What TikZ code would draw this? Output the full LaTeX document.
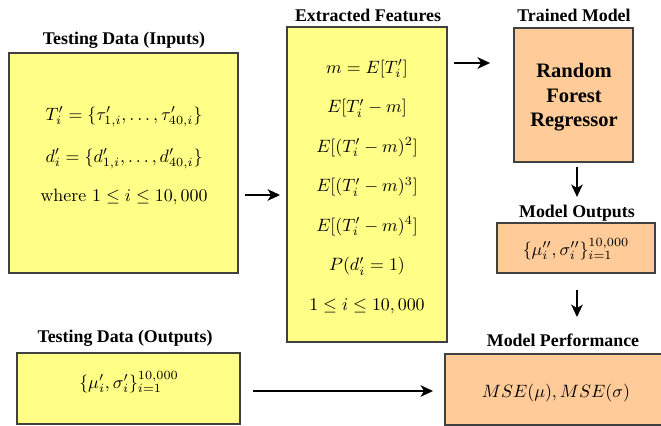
\documentclass[tikz,border=0pt]{standalone}
\usepackage{fontspec}
\newfontfamily\titlefont{Liberation Serif}
\usetikzlibrary{arrows.meta,fit}
\definecolor{ylw}{RGB}{255,255,136}
\definecolor{org}{RGB}{255,204,153}
\definecolor{edgec}{RGB}{64,64,64}
\tikzset{
  boxbase/.style={draw=edgec, line width=1.5pt, inner sep=0pt, outer sep=0pt},
  ybox/.style={boxbase, fill=ylw},
  obox/.style={boxbase, fill=org},
  ttl/.style={font=\titlefont\bfseries\fontsize{10}{12}\selectfont, inner sep=0pt},
  mth/.style={inner sep=0pt, anchor=base},
  rft/.style={font=\titlefont\bfseries\fontsize{11.5}{14}\selectfont, inner sep=0pt, anchor=base},
  arr/.style={-{Stealth[length=7pt,width=6.5pt,inset=2pt]}, line width=0.75pt, black}
}
\begin{document}
\begin{tikzpicture}[x=0.56pt,y=-0.56pt]
\useasboundingbox (0,0) rectangle (661,426);
\clip (0,0) rectangle (661,426);

% boxes
\node[ybox, fit={(9,53) (238,273)}] (in) {};
\node[ybox, fit={(287,27) (447,342)}] (feat) {};
\node[obox, fit={(514,28) (633,162)}] (rf) {};
\node[obox, fit={(497,223) (655,273)}] (mo) {};
\node[ybox, fit={(17,353) (240,424)}] (out) {};
\node[obox, fit={(445,354) (681,425)}] (perf) {};

% titles
\node[ttl] (tin) at (124,40) {Testing Data (Inputs)};
\node[ttl] (tfeat) at (368,15) {Extracted Features};
\node[ttl] (trf) at (574,15) {Trained Model};
\node[ttl] (tmo) at (577,213) {Model Outputs};
\node[ttl] (tout) at (125,338) {Testing Data (Outputs)};
\node[ttl] (tperf) at (563,340) {Model Performance};

% inputs text
\node[mth] (i1) at (124,120) {$T_i' = \{\tau_{1,i}', \ldots, \tau_{40,i}'\}$};
\node[mth] (i2) at (124,162) {$d_i' = \{d_{1,i}', \ldots, d_{40,i}'\}$};
\node[mth] (i3) at (124,201) {where $1 \leq i \leq 10,000$};

% features text
\node[mth] (f1) at (367,73) {$m = E[T_i']$};
\node[mth] (f2) at (367,112.5) {$E[T_i' - m]$};
\node[mth] (f3) at (367,152) {$E[(T_i' - m)^2]$};
\node[mth] (f4) at (367,191.5) {$E[(T_i' - m)^3]$};
\node[mth] (f5) at (367,231) {$E[(T_i' - m)^4]$};
\node[mth] (f6) at (367,270.5) {$P(d_i' = 1)$};
\node[mth] (f7) at (367,310) {$1 \leq i \leq 10,000$};

% random forest text
\node[rft] (r1) at (574,77) {Random};
\node[rft] (r2) at (574,102) {Forest};
\node[rft] (r3) at (574,126) {Regressor};

% model outputs text
\node[mth] (mot) at (576,255) {$\{\mu_i'', \sigma_i''\}_{i=1}^{10,000}$};

% testing outputs text
\node[mth] (outt) at (129,388) {$\{\mu_i', \sigma_i'\}_{i=1}^{10,000}$};

% performance text
\node[mth] (perft) at (556,397) {$MSE(\mu), MSE(\sigma)$};

% connectors
\coordinate (ya) at (0,195);
\coordinate (yb) at (0,63);
\coordinate (xc) at (577,0);
\coordinate (yd) at (0,391);
\draw[arr, shorten <=3.9pt, shorten >=3.9pt] (in.east |- ya) -- (feat.west |- ya);
\draw[arr, shorten <=3.9pt, shorten >=13.4pt] (feat.east |- yb) -- (rf.west |- yb);
\draw[arr, shorten <=2.8pt, shorten >=14.6pt] (rf.south -| xc) -- (mo.north -| xc);
\draw[arr, shorten <=9.5pt, shorten >=20.7pt] (mo.south -| xc) -- (perf.north -| xc);
\draw[arr, shorten <=7.3pt, shorten >=6.7pt] (out.east |- yd) -- (perf.west |- yd);
\end{tikzpicture}
\end{document}
